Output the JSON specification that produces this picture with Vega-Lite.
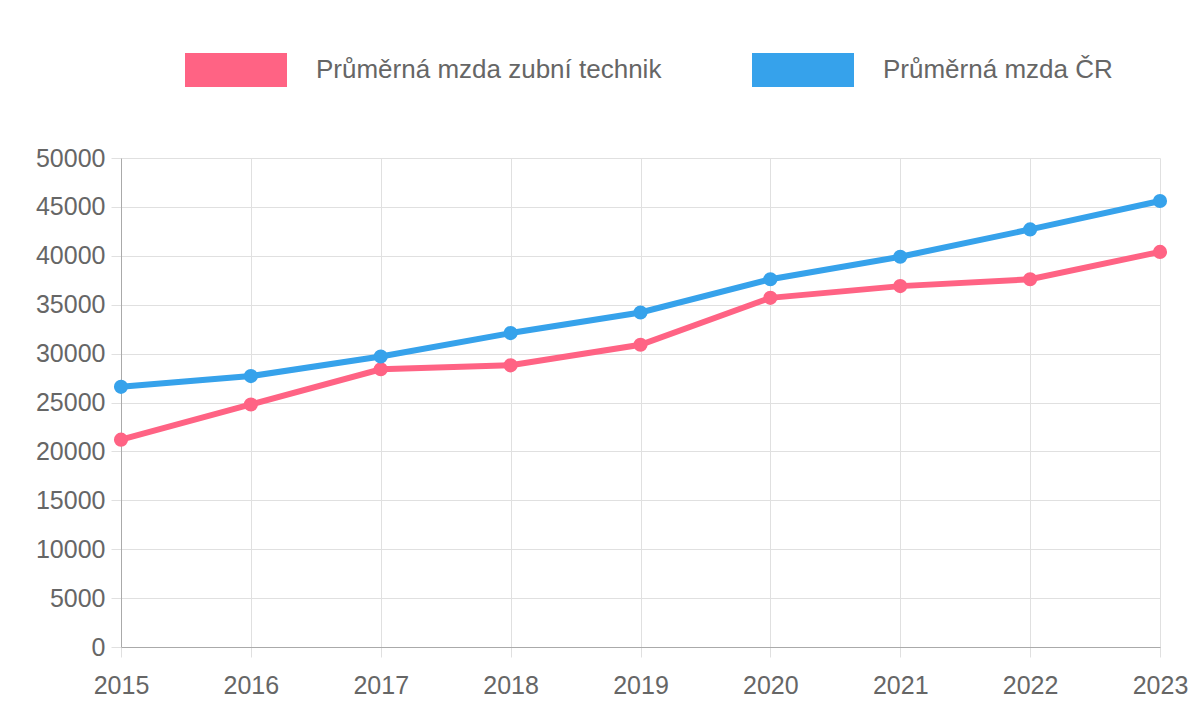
{
  "$schema": "https://vega.github.io/schema/vega-lite/v6.json",
  "width": 1039,
  "height": 489,
  "autosize": "none",
  "padding": {"left": 121, "top": 158, "right": 40, "bottom": 71},
  "background": "white",
  "title": {
    "text": "Průměrná mzda zubního technika 2015 - 2023",
    "font": "Liberation Sans",
    "fontSize": 24,
    "fontWeight": "bold",
    "color": "#666666",
    "anchor": "middle",
    "dx": -40,
    "offset": 48
  },
  "data": {
    "values": [
      {"rok": "2015", "serie": "Průměrná mzda zubní technik", "mzda": 21200},
      {"rok": "2016", "serie": "Průměrná mzda zubní technik", "mzda": 24800},
      {"rok": "2017", "serie": "Průměrná mzda zubní technik", "mzda": 28400},
      {"rok": "2018", "serie": "Průměrná mzda zubní technik", "mzda": 28800},
      {"rok": "2019", "serie": "Průměrná mzda zubní technik", "mzda": 30900},
      {"rok": "2020", "serie": "Průměrná mzda zubní technik", "mzda": 35700},
      {"rok": "2021", "serie": "Průměrná mzda zubní technik", "mzda": 36900},
      {"rok": "2022", "serie": "Průměrná mzda zubní technik", "mzda": 37600},
      {"rok": "2023", "serie": "Průměrná mzda zubní technik", "mzda": 40400},
      {"rok": "2015", "serie": "Průměrná mzda ČR", "mzda": 26600},
      {"rok": "2016", "serie": "Průměrná mzda ČR", "mzda": 27700},
      {"rok": "2017", "serie": "Průměrná mzda ČR", "mzda": 29700},
      {"rok": "2018", "serie": "Průměrná mzda ČR", "mzda": 32100},
      {"rok": "2019", "serie": "Průměrná mzda ČR", "mzda": 34200},
      {"rok": "2020", "serie": "Průměrná mzda ČR", "mzda": 37600},
      {"rok": "2021", "serie": "Průměrná mzda ČR", "mzda": 39900},
      {"rok": "2022", "serie": "Průměrná mzda ČR", "mzda": 42700},
      {"rok": "2023", "serie": "Průměrná mzda ČR", "mzda": 45600}
    ]
  },
  "encoding": {
    "x": {
      "field": "rok", "type": "ordinal",
      "scale": {"type": "point", "padding": 0},
      "axis": {"title": null, "labelAngle": 0, "grid": true, "labelFontSize": 25, "labelPadding": 16}
    },
    "y": {
      "field": "mzda", "type": "quantitative",
      "scale": {"domain": [0, 50000]},
      "axis": {"title": null, "tickCount": 10, "format": "d", "labelFontSize": 25, "labelPadding": 6}
    },
    "color": {
      "field": "serie", "type": "nominal",
      "scale": {"domain": ["Průměrná mzda zubní technik", "Průměrná mzda ČR"], "range": ["#ff6384", "#36a2eb"]},
      "legend": {
        "title": null, "orient": "top", "direction": "horizontal", "offset": 20,
        "symbolType": "M-1,0H1", "symbolSize": 10404, "symbolStrokeWidth": 34,
        "labelFontSize": 26, "labelColor": "#666666", "labelFont": "Liberation Sans",
        "labelLimit": 500, "columnPadding": 22, "labelOffset": 12
      }
    }
  },
  "layer": [
    {"mark": {"type": "line", "strokeWidth": 6}},
    {"mark": {"type": "point", "filled": true, "size": 200, "opacity": 1}}
  ],
  "config": {
    "view": {"stroke": null},
    "legend": {"layout": {"top": {"anchor": "middle"}}},
    "axis": {
      "labelFont": "Liberation Sans", "labelColor": "#666666",
      "gridColor": "#e0e0e0", "domainColor": "#aaaaaa", "tickColor": "#e0e0e0", "tickSize": 10
    }
  }
}
